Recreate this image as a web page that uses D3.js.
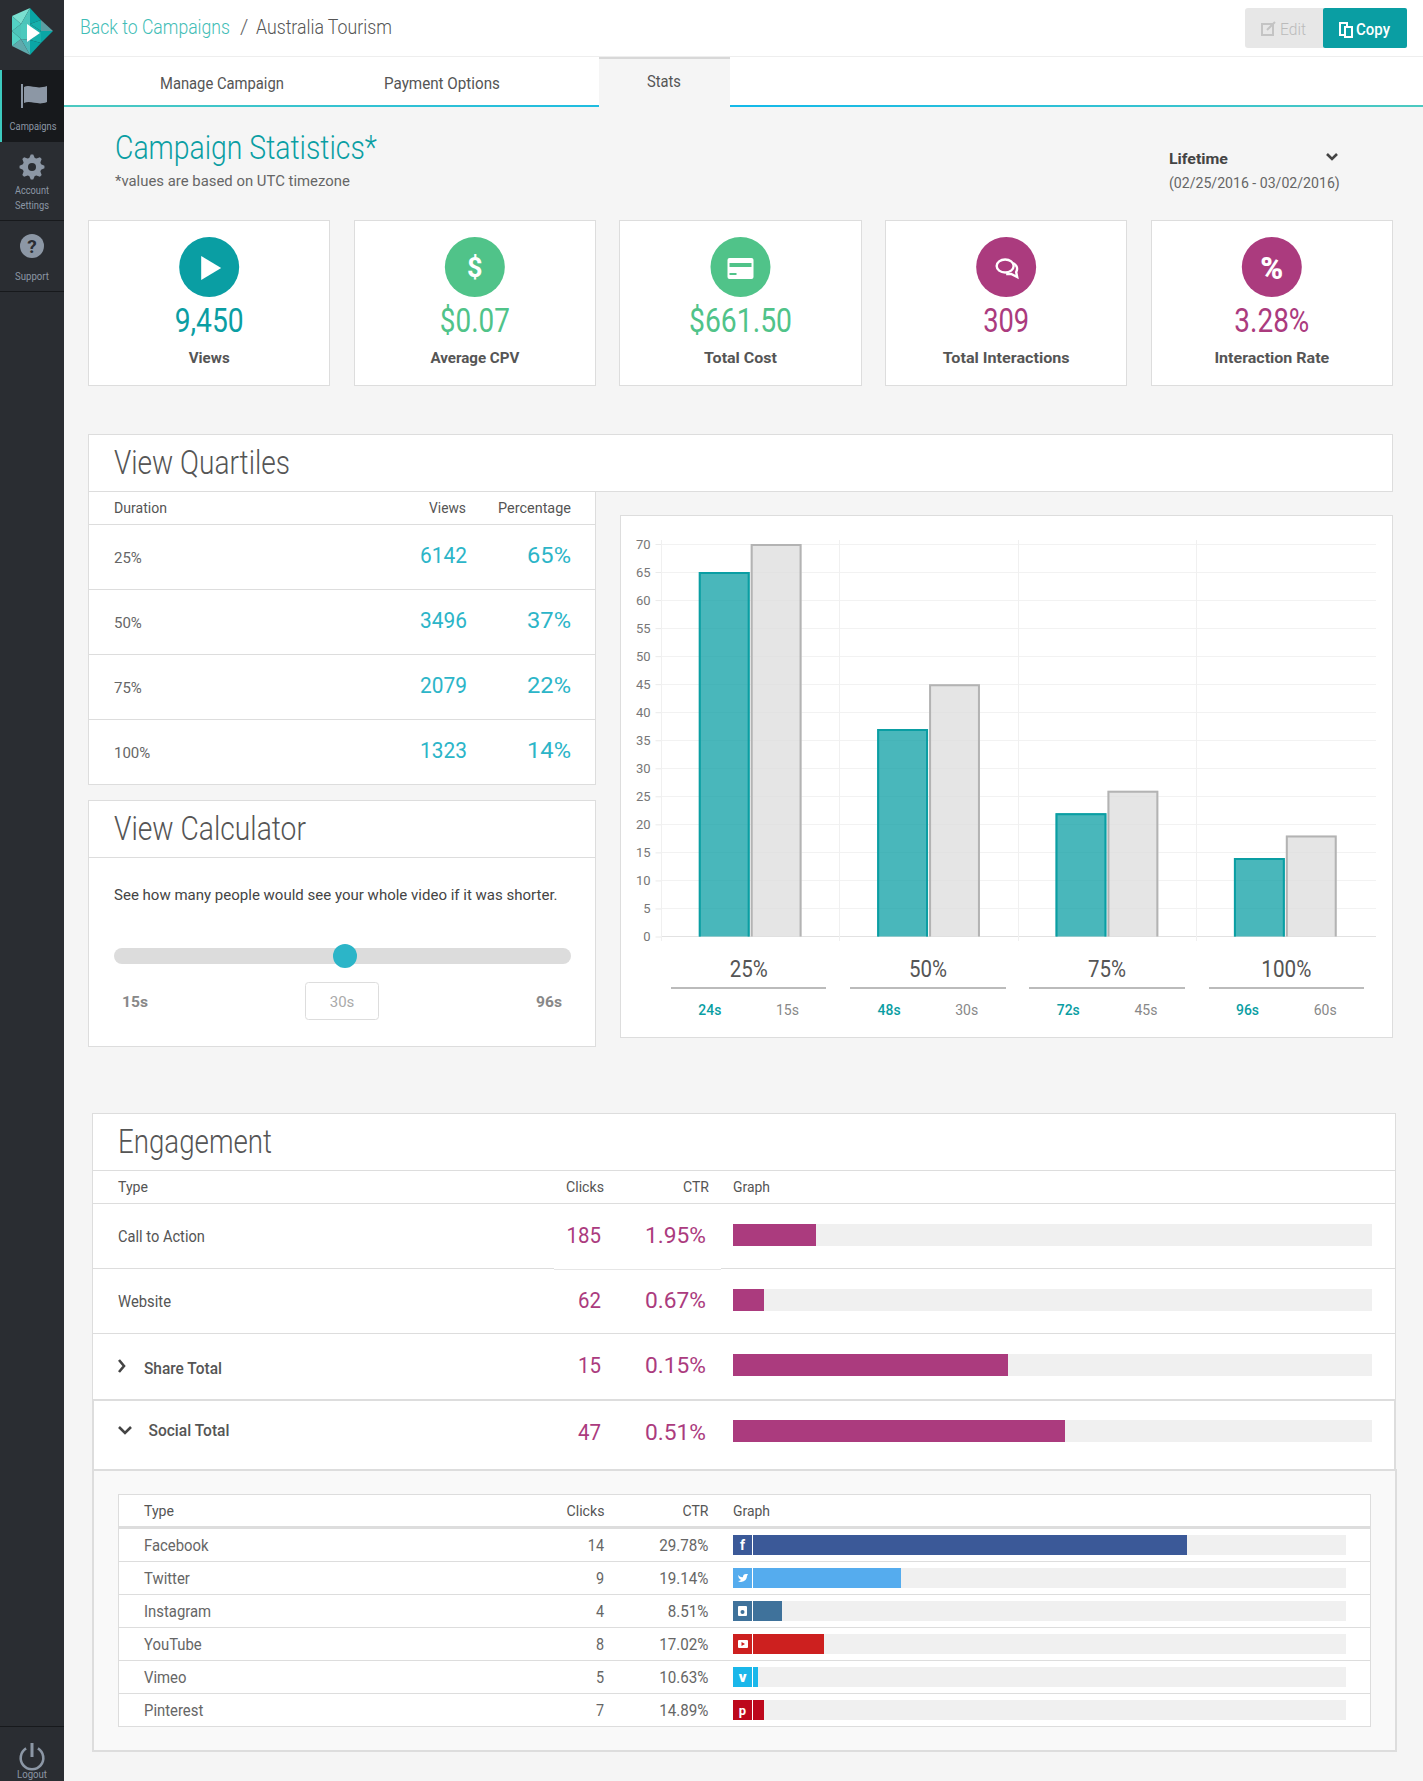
<!DOCTYPE html>
<html>
<head>
<meta charset="utf-8">
<title>Campaign Statistics</title>
<script src="https://cdn.jsdelivr.net/npm/d3@7"></script>
<style>
  html, body { margin: 0; padding: 0; background: #f5f5f5; }
  svg { display: block; }
  text { font-family: Roboto, "Noto Sans", sans-serif; }
</style>
</head>
<body>
<div id="page"></div>
<script>
// summary cards
var cardValues = ['9,450', '$0.07', '$661.50', '309', '3.28%'];
var cardLabels = ['Views', 'Average CPV', 'Total Cost', 'Total Interactions', 'Interaction Rate'];

// view quartiles
var quartiles = ['25%', '50%', '75%', '100%'];
var quartileViews = [6142, 3496, 2079, 1323];
var quartilePercents = [65, 37, 22, 14];
var altPercents = [70, 45, 26, 18];
var quartileSeconds = ['24s', '48s', '72s', '96s'];
var altSeconds = ['15s', '30s', '45s', '60s'];
var yTicks = [0, 5, 10, 15, 20, 25, 30, 35, 40, 45, 50, 55, 60, 65, 70];

// engagement
var engageTypes = ['Call to Action', 'Website', 'Share Total', 'Social Total'];
var engageClicks = [185, 62, 15, 47];
var engageCtr = ['1.95%', '0.67%', '0.15%', '0.51%'];
var engageBar = [13, 4.9, 43, 52];

// social breakdown
var socialTypes = ['Facebook', 'Twitter', 'Instagram', 'YouTube', 'Vimeo', 'Pinterest'];
var socialClicks = [14, 9, 4, 8, 5, 7];
var socialCtr = ['29.78%', '19.14%', '8.51%', '17.02%', '10.63%', '14.89%'];
var socialBar = [74, 27.4, 8, 14.8, 4, 5];
var socialColors = ['#3b5998', '#55acee', '#3f729b', '#cd201f', '#1ab7ea', '#bd081c'];

var TEAL = '#0a9ea3', GREEN = '#50c389', PLUM = '#ab3b7e', CYAN = '#2cb5c8', TEXT = '#555', LINE = '#ddd';

var svg = d3.select('#page').append('svg').attr('width', 1423).attr('height', 1781);

// text helper, w = exact width, stretch = factor on the natural width
function txt(x, y, s, o) {
  o = o || {};
  var t = svg.append('text')
    .attr('font-size', o.size || 15)
    .attr('font-weight', o.weight || 400)
    .attr('fill', o.fill || TEXT)
    .attr('text-anchor', o.anchor || 'start')
    .text(s);
  if (o.font) t.style('font-family', o.font);
  var len = t.node().getComputedTextLength();
  var k = o.w ? o.w / len : (o.stretch || 1);
  t.attr('transform', 'translate(' + x + ',' + y + ') scale(' + k + ',1)');
  return t;
}
function box(x, y, w, h, fill, stroke, sw) {
  return svg.append('rect').attr('x', x).attr('y', y).attr('width', w).attr('height', h)
    .attr('fill', fill || 'none').attr('stroke', stroke || 'none').attr('stroke-width', sw || 1)
    .attr('shape-rendering', 'crispEdges');
}
function hline(x1, x2, y, color, sw) {
  svg.append('line').attr('x1', x1).attr('x2', x2).attr('y1', y).attr('y2', y)
    .attr('stroke', color || LINE).attr('stroke-width', sw || 1).attr('shape-rendering', 'crispEdges');
}
function chevron(pts, color) {
  svg.append('polyline').attr('points', pts).attr('fill', 'none')
    .attr('stroke', color || '#444').attr('stroke-width', 2.6);
}

// sidebar -----------------------------------------------------------------
box(0, 0, 64, 1781, '#2a2d32');
box(0, 70, 64, 72, '#17191c');
box(0, 70, 2, 72, '#3cc9be');
hline(0, 64, 220.5, '#17191c');
hline(0, 64, 291.5, '#17191c');
hline(0, 64, 1726.5, '#17191c');

// logo facets
var logoFacets = [
  ['30,8 12,16 21,24', '#7adfd0'], ['30,8 21,24 30,24', '#4cc4ba'], ['30,8 30,24 41,20', '#0aa5a5'],
  ['41,20 30,24 41,31', '#15b0ac'], ['41,20 41,31 53,31', '#5b9ea3'], ['41,31 53,31 41,43', '#0aa5a5'],
  ['41,31 30,40 41,43', '#15b0ac'], ['41,43 30,40 30,55', '#0aa5a5'], ['30,40 30,55 21,39', '#4cb8b8'],
  ['30,55 21,39 12,46', '#5fa9ac'], ['21,39 12,46 12,31', '#52d1c4'], ['21,24 21,39 12,31', '#4cc4ba'],
  ['12,16 21,24 12,31', '#52d1c4'], ['21,24 30,24 30,40 21,39', '#4cc9bd'], ['30,24 41,31 30,40', '#15b0ac']
];
logoFacets.forEach(function (f) {
  svg.append('polygon').attr('points', f[0]).attr('fill', f[1]);
});
svg.append('polygon').attr('points', '27,24 27,42 40,33').attr('fill', '#fff');

var sideGrey = '#8c97a5';
svg.append('path').attr('d', 'M24,87 C30,84 36,90 47,86 L47,102 C38,106 31,100 24,103 Z').attr('fill', sideGrey);
svg.append('rect').attr('x', 21).attr('y', 84).attr('width', 2).attr('height', 24).attr('fill', sideGrey);
txt(33, 130, 'Campaigns', { size: 11, fill: sideGrey, anchor: 'middle', w: 47 });

var gear = d3.range(32).map(function (i) {
  var a = (i - 0.5) * Math.PI / 16, r = (i % 4 < 2) ? 12.5 : 9.5;
  return [32 + r * Math.cos(a), 167 + r * Math.sin(a)];
});
svg.append('path').attr('d', d3.line()(gear) + 'Z').attr('fill', sideGrey);
svg.append('circle').attr('cx', 32).attr('cy', 167).attr('r', 4).attr('fill', '#2a2d32');
txt(32, 194, 'Account', { size: 11, fill: sideGrey, anchor: 'middle', w: 34 });
txt(32, 209, 'Settings', { size: 11, fill: sideGrey, anchor: 'middle', w: 34 });

svg.append('circle').attr('cx', 32).attr('cy', 246).attr('r', 12).attr('fill', sideGrey);
txt(32, 253, '?', { size: 19, weight: 700, fill: '#2a2d32', anchor: 'middle' });
txt(32, 280, 'Support', { size: 11, fill: sideGrey, anchor: 'middle', w: 34 });

svg.append('path').attr('d', d3.arc().innerRadius(10).outerRadius(12.6).startAngle(0.55).endAngle(2 * Math.PI - 0.55)())
  .attr('transform', 'translate(32,1758)').attr('fill', sideGrey);
svg.append('rect').attr('x', 30.5).attr('y', 1743).attr('width', 3).attr('height', 14).attr('fill', sideGrey);
txt(32, 1778, 'Logout', { size: 11, fill: sideGrey, anchor: 'middle', w: 30 });

// top bar and tabs --------------------------------------------------------
box(64, 0, 1359, 56, '#fff');
hline(64, 1423, 56.5, '#eee');
box(64, 57, 1359, 48, '#fff');
var grad = svg.append('defs').append('linearGradient').attr('id', 'tabLine');
grad.append('stop').attr('offset', '0%').attr('stop-color', '#4cc9c0');
grad.append('stop').attr('offset', '50%').attr('stop-color', '#13b9e9');
grad.append('stop').attr('offset', '100%').attr('stop-color', '#4cc9c0');
svg.append('rect').attr('x', 64).attr('y', 105).attr('width', 1359).attr('height', 2).attr('fill', 'url(#tabLine)');
box(599, 57, 131, 50, '#f5f5f5');
box(599, 57, 131, 2, '#d8d8d8');

txt(80, 34, 'Back to Campaigns', { size: 21, weight: 300, fill: '#3fbdb6', w: 150 });
txt(240, 34, '/', { size: 21, weight: 300, fill: '#666' });
txt(256, 34, 'Australia Tourism', { size: 21, weight: 300, fill: '#555', w: 136 });
txt(160, 89, 'Manage Campaign', { size: 16, w: 124 });
txt(384, 89, 'Payment Options', { size: 16, w: 116 });
txt(647, 87, 'Stats', { size: 16, w: 34 });

svg.append('rect').attr('x', 1245).attr('y', 8).attr('width', 80).attr('height', 40).attr('rx', 3).attr('fill', '#e7e7e7');
svg.append('rect').attr('x', 1323).attr('y', 8).attr('width', 84).attr('height', 40).attr('rx', 2).attr('fill', TEAL);
box(1262, 24, 11, 11, 'none', '#c4c4c4', 1.5);
svg.append('line').attr('x1', 1267).attr('y1', 30).attr('x2', 1275).attr('y2', 22).attr('stroke', '#c4c4c4').attr('stroke-width', 2);
txt(1280, 35, 'Edit', { size: 16, weight: 300, fill: '#bbb', w: 26 });
box(1340, 23, 7, 12, 'none', '#fff', 1.5);
box(1345, 27, 7, 10, TEAL, '#fff', 1.5);
txt(1356, 35, 'Copy', { size: 16, weight: 500, fill: '#fff', w: 34 });

// heading -----------------------------------------------------------------
txt(115, 159, 'Campaign Statistics*', { size: 34, weight: 300, fill: TEAL, w: 262 });
txt(115, 186, '*values are based on UTC timezone', { size: 15, fill: '#666', w: 235 });
txt(1169, 164, 'Lifetime', { size: 15, weight: 700, fill: '#444', w: 59 });
chevron('1327,154 1332,159 1337,154', '#444');
txt(1169, 188, '(02/25/2016 - 03/02/2016)', { size: 15, fill: '#666', w: 171 });

// cards -------------------------------------------------------------------
var cardX = d3.scaleBand().domain(cardLabels).range([88, 1393]).paddingInner(0.0877);
var cardColors = [TEAL, GREEN, GREEN, PLUM, PLUM];
var valueWidths = [69, 70, 103, 46, 75];
var labelWidths = [41, 89, 73, 127, 115];
cardLabels.forEach(function (lab, i) {
  var x = cardX(lab), cx = x + cardX.bandwidth() / 2;
  box(x + 0.5, 220.5, cardX.bandwidth() - 1, 165, '#fff', LINE);
  svg.append('circle').attr('cx', cx).attr('cy', 267).attr('r', 30).attr('fill', cardColors[i]);
  txt(cx, 332, cardValues[i], { size: 33, fill: cardColors[i], anchor: 'middle', w: valueWidths[i], weight: 400 });
  txt(cx, 363, lab, { size: 15, weight: 700, anchor: 'middle', w: labelWidths[i] });
});
function cardCx(i) { return cardX(cardLabels[i]) + cardX.bandwidth() / 2; }
svg.append('polygon').attr('points', [[-9, -11], [11, 1], [-9, 13]].map(function (p) { return [cardCx(0) + p[0] + 1, 267 + p[1]].join(','); }).join(' ')).attr('fill', '#fff');
txt(cardCx(1), 277, '$', { size: 27, weight: 700, fill: '#fff', anchor: 'middle' });
svg.append('rect').attr('x', cardCx(2) - 13).attr('y', 258).attr('width', 26).attr('height', 21).attr('rx', 2).attr('fill', '#fff');
svg.append('rect').attr('x', cardCx(2) - 11).attr('y', 263).attr('width', 22).attr('height', 4).attr('fill', GREEN);
svg.append('rect').attr('x', cardCx(2) - 11).attr('y', 273).attr('width', 7).attr('height', 2).attr('fill', GREEN);
svg.append('ellipse').attr('cx', cardCx(3) - 1).attr('cy', 266).attr('rx', 8.5).attr('ry', 6.5).attr('fill', 'none').attr('stroke', '#fff').attr('stroke-width', 2.4);
svg.append('path').attr('d', 'M' + (cardCx(3) + 7) + ',263 a7,6.5 0 0 1 3,9 l1,5 l-6,-3 h-5').attr('fill', 'none').attr('stroke', '#fff').attr('stroke-width', 2.4);
txt(cardCx(4), 279, '%', { size: 31, weight: 900, fill: '#fff', anchor: 'middle' });

// view quartiles table ----------------------------------------------------
box(88.5, 434.5, 1304, 57, '#fff', LINE);
txt(114, 474, 'View Quartiles', { size: 33, weight: 300, w: 176 });
box(88.5, 491.5, 507, 293, '#fff', LINE);
hline(88, 596, 524.5);
txt(114, 513, 'Duration', { size: 14.5, w: 53 });
txt(466, 513, 'Views', { size: 14.5, anchor: 'end', w: 37 });
txt(571, 513, 'Percentage', { size: 14.5, anchor: 'end', w: 73 });

var quartileRow = d3.scaleBand().domain(quartiles).range([524.5, 784.5]);
quartiles.forEach(function (q, i) {
  var top = quartileRow(q);
  if (i) hline(88, 596, top);
  txt(114, top + 38.5, q, { size: 15, fill: '#666' });
  txt(467, top + 38.5, quartileViews[i], { size: 22, fill: CYAN, anchor: 'end', w: 47 });
  txt(571, top + 38.5, quartilePercents[i] + '%', { size: 22, fill: CYAN, anchor: 'end', w: 44 });
});

// view calculator ---------------------------------------------------------
box(88.5, 800.5, 507, 246, '#fff', LINE);
hline(88, 596, 857.5);
txt(114, 840, 'View Calculator', { size: 33, weight: 300, w: 192 });
txt(114, 900, 'See how many people would see your whole video if it was shorter.', { size: 15, fill: '#444', w: 444 });
svg.append('rect').attr('x', 114).attr('y', 948).attr('width', 457).attr('height', 16).attr('rx', 8).attr('fill', '#dcdcdc');
svg.append('circle').attr('cx', 345).attr('cy', 956).attr('r', 12).attr('fill', CYAN);
txt(122, 1007, '15s', { size: 15, weight: 700, fill: '#888', w: 26 });
txt(562, 1007, '96s', { size: 15, weight: 700, fill: '#888', anchor: 'end', w: 26 });
svg.append('rect').attr('x', 305.5).attr('y', 982.5).attr('width', 73).attr('height', 37).attr('rx', 3).attr('fill', '#fff').attr('stroke', LINE);
txt(342, 1007, '30s', { size: 15, fill: '#aaa', anchor: 'middle' });

// quartile chart ----------------------------------------------------------
box(620.5, 515.5, 772, 522, '#fff', LINE);
var x0 = d3.scaleBand().domain(quartiles).range([661.5, 1376.5 - 1.5]);
var x1 = d3.scaleBand().domain(['teal', 'grey']).range([37.3, x0.bandwidth() - 38.3]).paddingInner(0.02);
var y = d3.scaleLinear().domain([0, 70]).range([936.5, 544]);

var yAxis = svg.append('g').attr('transform', 'translate(661.5,0)')
  .call(d3.axisLeft(y).tickValues(yTicks).tickSize(6).tickPadding(5));
yAxis.select('.domain').remove();
yAxis.selectAll('.tick line').attr('stroke', '#eaeaea');
yAxis.selectAll('.tick text').attr('fill', '#777').attr('font-size', 13)
  .style('font-family', '"Liberation Sans Narrow", Roboto, sans-serif');
yTicks.forEach(function (v) { hline(661, 1376, y(v), v === 0 ? '#e2e2e2' : '#f2f2f2'); });
quartiles.forEach(function (q) {
  var gx = x0(q);
  svg.append('line').attr('x1', gx).attr('x2', gx).attr('y1', 540).attr('y2', 941)
    .attr('stroke', '#f0f0f0').attr('shape-rendering', 'crispEdges');
});

function barPath(x, w, v) {
  var t = y(v), b = y(0);
  return 'M' + (x + 1) + ',' + b + 'V' + (t + 1) + 'H' + (x + w - 1) + 'V' + b;
}
quartiles.forEach(function (q, i) {
  var tx = x0(q) + x1('teal'), gx = x0(q) + x1('grey'), w = x1.bandwidth();
  svg.append('rect').attr('x', tx).attr('y', y(quartilePercents[i])).attr('width', w)
    .attr('height', y(0) - y(quartilePercents[i])).attr('fill', 'rgba(10,158,163,0.74)');
  svg.append('path').attr('d', barPath(tx, w, quartilePercents[i])).attr('fill', 'none').attr('stroke', TEAL).attr('stroke-width', 2);
  svg.append('rect').attr('x', gx).attr('y', y(altPercents[i])).attr('width', w)
    .attr('height', y(0) - y(altPercents[i])).attr('fill', 'rgba(220,220,220,0.75)');
  svg.append('path').attr('d', barPath(gx, w, altPercents[i])).attr('fill', 'none').attr('stroke', '#b3b3b3').attr('stroke-width', 2);
});

// captions under the chart
var capX = d3.scaleBand().domain(quartiles).range([671, 1364]).paddingInner(0.1335);
var capWidths = [38, 38, 38, 50];
quartiles.forEach(function (q, i) {
  var left = capX(q), cw = capX.bandwidth();
  txt(left + cw / 2, 976.5, q, { size: 24, fill: '#555', anchor: 'middle', w: capWidths[i] });
  hline(left, left + cw, 987.5, '#bbb', 2);
  txt(left + cw * 0.25, 1015, quartileSeconds[i], { size: 14, weight: 500, fill: TEAL, anchor: 'middle', w: 23 });
  txt(left + cw * 0.75, 1015, altSeconds[i], { size: 14, fill: '#888', anchor: 'middle', w: 23 });
});

// engagement --------------------------------------------------------------
box(92.5, 1113.5, 1303, 356, '#fff', LINE);
txt(118, 1153, 'Engagement', { size: 33, weight: 300, w: 154 });
hline(92, 1396, 1170.5);
hline(92, 1396, 1203.5, LINE, 1);
txt(118, 1192, 'Type', { size: 15, w: 30 });
txt(604, 1192, 'Clicks', { size: 15, anchor: 'end', w: 38 });
txt(709, 1192, 'CTR', { size: 15, anchor: 'end', w: 26 });
txt(733, 1192, 'Graph', { size: 15, w: 37 });

var engageX = d3.scaleLinear().domain([0, 100]).range([733, 1371.5]);
var engageBot = [1268.5, 1333.5, 1399.5, 1469.5];
var engageBarY = [1224, 1289, 1354, 1420];
var engageNameY = [1242, 1307, 1374, 1436];
var engageNameX = [118, 118, 144, 148.5];
var engageNameW = [87, 53, 78, 81];
var engageValY = [1243, 1308, 1373, 1440];

box(92.5, 1469.5, 1303, 281, '#f9f9f9', LINE, 2);
engageTypes.forEach(function (t, i) {
  hline(92, 1396, engageBot[i], LINE, i > 1 ? 2 : 1);
  txt(engageNameX[i], engageNameY[i], t, { size: 16, weight: i > 1 ? 500 : 400, w: engageNameW[i] });
  txt(601, engageValY[i], engageClicks[i], { size: 22, fill: PLUM, anchor: 'end', stretch: 0.93 });
  txt(706, engageValY[i], engageCtr[i], { size: 22, fill: PLUM, anchor: 'end', w: 61 });
  box(733, engageBarY[i], engageX(100) - 733, 22, '#f0f0f0');
  box(733, engageBarY[i], engageX(engageBar[i]) - 733, 22, PLUM);
});
hline(554, 721, 1268.5, '#fff');
hline(554, 721, 1269.5, '#e6e6e6');
chevron('119,1360 124,1366 119,1372');
chevron('119,1427 125,1433 131,1427');
// heavier side borders on the open row
box(92, 1399, 2, 71, LINE);
box(1394, 1399, 2, 71, LINE);

// social table ------------------------------------------------------------
box(118.5, 1494.5, 1251.5, 232, '#fff', LINE);
hline(118, 1370, 1527.5, LINE, 3);
txt(144, 1516, 'Type', { size: 15, w: 30 });
txt(604.5, 1516, 'Clicks', { size: 15, anchor: 'end', w: 38 });
txt(708.5, 1516, 'CTR', { size: 15, anchor: 'end', w: 26 });
txt(733, 1516, 'Graph', { size: 15, w: 37 });

var socialX = d3.scaleLinear().domain([0, 100]).range([733, 1346]);
var socialRow = d3.scaleBand().domain(socialTypes).range([1528.5, 1726.5]);
socialTypes.forEach(function (t, i) {
  var top = socialRow(t);
  if (i < 5) hline(118, 1370, top + 33);
  txt(144, top + 22, t, { size: 16, fill: '#666', stretch: 0.93 });
  txt(604, top + 22, socialClicks[i], { size: 16, fill: '#666', anchor: 'end', stretch: 0.9 });
  txt(708.5, top + 22, socialCtr[i], { size: 16, fill: '#666', anchor: 'end', stretch: 0.95 });
  box(733, top + 6.5, socialX(100) - 733, 20, '#f0f0f0');
  box(733, top + 6.5, socialX(socialBar[i]) - 733, 20, socialColors[i]);
  box(733, top + 6.5, 19, 20, socialColors[i]);
  box(752, top + 6.5, 1, 20, '#fff');
});
// small glyphs inside the social icon squares
var cyOf = function (i) { return socialRow(socialTypes[i]) + 16.5; };
txt(742.5, cyOf(0) + 5, 'f', { size: 14, weight: 700, fill: '#fff', anchor: 'middle' });
svg.append('path').attr('d', 'M738,' + (cyOf(1) - 3) + ' q3,3 5,2 q0,-3 3,-3 l2,0 l-1,2 q0,5 -6,6 q-2,0 -3,-1 q2,0 3,-1 q-3,-2 -3,-5z').attr('fill', '#fff');
svg.append('rect').attr('x', 738).attr('y', cyOf(2) - 5).attr('width', 9).attr('height', 10).attr('rx', 1).attr('fill', '#fff');
svg.append('circle').attr('cx', 742.5).attr('cy', cyOf(2) + 1).attr('r', 2).attr('fill', socialColors[2]);
svg.append('rect').attr('x', 738).attr('y', cyOf(3) - 4).attr('width', 10).attr('height', 8).attr('rx', 1).attr('fill', '#fff');
svg.append('polygon').attr('points', [741.5 + ',' + (cyOf(3) - 2), 741.5 + ',' + (cyOf(3) + 2), 745 + ',' + cyOf(3)].join(' ')).attr('fill', socialColors[3]);
txt(742.5, cyOf(4) + 5, 'v', { size: 15, weight: 900, fill: '#fff', anchor: 'middle' });
txt(742.5, cyOf(5) + 5, 'p', { size: 13, weight: 700, fill: '#fff', anchor: 'middle' });
</script>
</body>
</html>
